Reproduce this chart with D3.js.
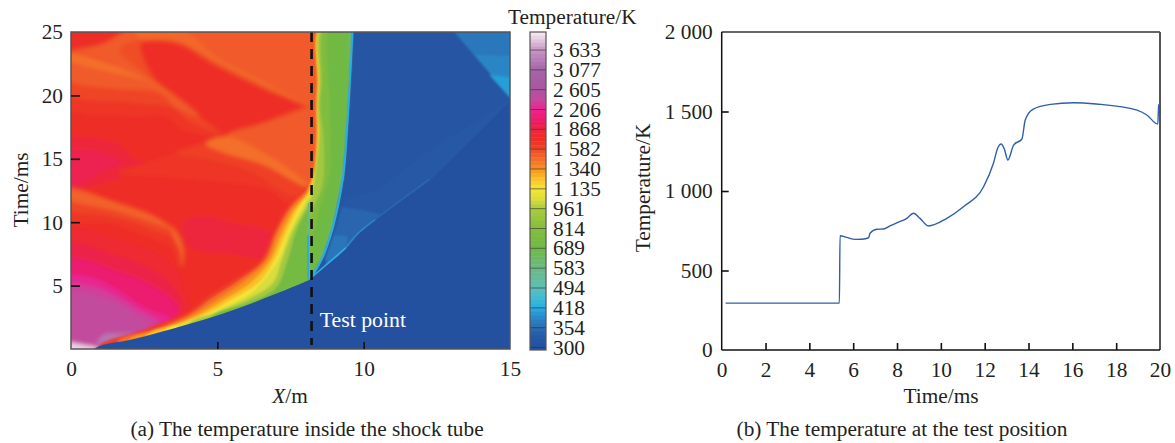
<!DOCTYPE html>
<meta charset="utf-8">

<head>
  <title>Shock tube temperature</title>
  <style>
    body { margin: 0; background: #fff; }
    text { font-family: "Liberation Serif", serif; font-size: 21.3px; fill: #231f20; }
    .domain { display: none; }
    .tick line { stroke: #111; stroke-width: 1.6px; }
  </style>
  <script src="https://d3js.org/d3.v7.min.js"></script>
</head>

<body>
  <svg id="chart" width="1175" height="443"></svg>

  <script>
    // colour bar
    var legendTicks = [3633, 3077, 2605, 2206, 1868, 1582, 1340, 1135, 961, 814, 689, 583, 494, 418, 354, 300];
    var tempStops = [300, 330, 354, 390, 418, 460, 494, 583, 689, 814, 961, 1050, 1135, 1240, 1340, 1450, 1530, 1620, 1720, 1868, 1990, 2206, 2400, 2605, 3077, 3633, 4300];
    var colourStops = ['#24519f', '#2559a7', '#2b6cb3', '#2a8ccb', '#27aee3', '#45bcd0', '#5dbeb4', '#6bba85', '#6db944', '#85bd3e', '#a9cb3f', '#dede3c', '#f5e535', '#f9c02b', '#f7941e', '#f4702a', '#f15a29', '#ef3e26', '#ee2e24', '#ee2440', '#ec1c60', '#ec2390', '#c8489d', '#a8559f', '#a565a9', '#c795c4', '#f7ecf3'];

    // field (a): [temperature, outline in [X/m, time/ms]], painted in order
    var upperWaves = [
      [1530, [[0, 23.3], [1.1, 24.1], [2.2, 25], [5, 25], [8.8, 25], [8.6, 22], [8.5, 19], [8.2, 19.1], [6.7, 17.9], [5.3, 16.75], [4.4, 18.3], [3.6, 19.9], [2.1, 21.8]]],
      [1570, [[1.67, 23.6], [2.4, 24.4], [3.6, 24.3], [5, 22.5], [6.7, 20.6], [8.05, 19], [6.7, 17.9], [5.32, 16.75], [4.4, 18.3], [3.6, 19.9], [2.47, 21.8]]],
      [1730, [[2.4, 24.1], [3.6, 24.1], [4.98, 22.3], [6.69, 20.4], [8.05, 19], [6.7, 17.9], [5.32, 16.75], [4.4, 18.3], [3.6, 19.9], [2.8, 21.5]]],
      [1480, [[2.2, 25], [3.7, 25], [5, 23], [6.7, 21], [8.1, 19.1], [6.7, 20.6], [5, 22.6], [3.6, 24.3], [2.3, 24.5]]],
      [1670, [[0, 23.3], [2.1, 21.8], [3.6, 19.9], [4.4, 18.3], [5.3, 16.7], [4.85, 16.7], [3.7, 17.5], [3.3, 18.3], [2.1, 18.3], [0, 19.1]]],
      [1600, [[0, 23.3], [2.1, 21.8], [3.6, 19.9], [4.4, 18.3], [5.1, 17], [4, 18], [3.5, 19], [2.1, 19.4], [0, 20.2]]],
      [1530, [[0, 23.3], [2.1, 21.8], [3.6, 19.9], [4.4, 18.3], [3.6, 19], [3, 20.2], [1.5, 20.5], [0, 21.3]]],
      [1450, [[0, 23.3], [2.1, 21.8], [3.6, 19.9], [3.2, 20.4], [2.5, 21.2], [1, 22], [0, 22.9]]]
    ];
    var crossingWave = [
      [1840, [[0, 12.7], [0, 16.5], [1.6, 16.2], [2.1, 15.1], [2.6, 14.6]]],
      [1930, [[0, 12.8], [0, 15.4], [1, 15.5], [1.7, 14.7], [1.2, 14.1]]],
      [1680, [[1.6, 13.9], [2.6, 14.7], [5.3, 16.75], [8.2, 19.1], [8.5, 19], [8.3, 12.7], [8.1, 12.5], [7.4, 11.5], [6.8, 12.5], [5, 13.2], [3, 13.6]]],
      [1610, [[3.6, 15.4], [5.3, 16.75], [8.2, 19.1], [8.5, 19], [8.3, 12.7], [7.6, 12], [6.2, 13.9], [4.6, 15]]],
      [1530, [[5.3, 16.75], [6.7, 17.9], [8.2, 19.1], [8.5, 19], [8.3, 12.7], [7.8, 13.3], [6.7, 15.1]]],
      [1450, [[4.6, 16.2], [5.3, 16.75], [6.7, 15.3], [7.9, 13.4], [8.2, 12.7], [7.9, 12.9], [6.6, 14.5], [5.2, 15.5]]]
    ];
    var lowerWave = [
      [1670, [[0, 12.6], [1.6, 11.5], [2.9, 10.3], [3.6, 9.1], [3.8, 7.8], [3.75, 6.3], [3.4, 8], [2.6, 8.9], [1.4, 9.9], [0, 10.2]]],
      [1600, [[0, 12.6], [1.6, 11.5], [2.9, 10.3], [3.6, 9.1], [3.3, 9], [2.2, 9.9], [1, 10.6], [0, 11]]],
      [1500, [[0, 12.6], [1.6, 11.5], [2.9, 10.4], [3.5, 9.4], [3, 9.8], [1.5, 10.9], [0, 11.9]]],
      [1500, [[3.4, 9.7], [3.7, 8.9], [3.85, 7.8], [3.8, 6.5], [3.7, 7.8], [3.45, 9]]],
      [1850, [[3.8, 9.9], [4.5, 10.5], [5.6, 9.9], [6.8, 9.2], [6.9, 7.2], [5.5, 7.5], [4.1, 8]]]
    ];
    var driverGas = [
      [1790, [[0, 9.5], [1.5, 8.7], [3, 7.5], [3.7, 6], [3.9, 4.5], [4.1, 3.2], [3.3, 2.2], [1.5, 0.7], [0.5, 0], [0, 0]]],
      [1900, [[0, 8.2], [1.5, 7.4], [2.8, 6.2], [3.5, 4.8], [3.8, 3.3], [3.3, 2.1], [1.5, 0.7], [0.5, 0], [0, 0]]],
      [2060, [[0, 7], [1.5, 6.2], [2.6, 5.2], [3.4, 4], [3.7, 3], [3.1, 1.9], [1.5, 0.7], [0.5, 0], [0, 0]]],
      [2230, [[0, 5.6], [0.75, 5.6], [1.57, 4.65], [2.46, 3.3], [3.4, 2.3], [2.8, 1.7], [1.5, 0.7], [0.5, 0], [0, 0]]],
      [2360, [[0, 4.9], [0.75, 4.9], [1.57, 4.1], [2.3, 3.1], [3, 2.1], [2.46, 1.3], [1.5, 0.6], [0.5, 0], [0, 0]]],
      [2440, [[0, 4.25], [0.75, 4.25], [1.57, 3.6], [2.1, 2.9], [2.7, 1.9], [1.8, 0.95], [0.75, 0.15], [0, 0]]],
      [3300, [[1.1, 1.1], [1.8, 1.2], [2.2, 1.3], [1.5, 0.7], [0.9, 0.3]]],
      [4100, [[0, 0], [0, 0.45], [0.5, 0.3], [0.9, 0.1], [0.7, 0]]]
    ];
    var frontLayers = [
      [1620, [[1, 0.3], [2.5, 1.5], [3.95, 2.85], [4.64, 4.1], [5.5, 5.4], [6.46, 7], [6.9, 9.15], [7.38, 11.2], [7.93, 12.5], [8.2, 13], [8.2, 0], [1, 0]]],
      [1450, [[1.6, 0.6], [2.9, 1.55], [4.1, 2.8], [4.8, 4], [5.7, 5.35], [6.6, 7], [7, 9.15], [7.47, 11.1], [8, 12.4], [8.2, 13], [8.2, 0], [1.6, 0]]],
      [1340, [[2, 0.75], [3.1, 1.55], [4.2, 2.7], [5, 3.9], [5.9, 5.3], [6.7, 7], [7.1, 9.15], [7.55, 11], [8.05, 12.3], [8.2, 13], [8.2, 0], [2, 0]]],
      [1240, [[2.6, 1.1], [3.6, 1.95], [4.4, 2.72], [5.25, 3.9], [6.15, 5.25], [6.82, 7], [7.22, 9.1], [7.65, 11], [8.08, 12.25], [8.2, 12.8], [8.2, 0], [2.6, 0]]],
      [1135, [[3.2, 1.4], [3.9, 2.1], [4.7, 2.85], [5.5, 3.9], [6.4, 5.2], [6.95, 7], [7.35, 9.1], [7.75, 11], [8.1, 12.2], [8.2, 12.6], [8.2, 0], [3.2, 0]]],
      [1040, [[3.6, 1.65], [4.4, 2.35], [5.3, 3.35], [6.25, 4.6], [7.08, 7], [7.45, 9.15], [7.85, 10.95], [8.2, 12.2], [8.2, 0], [3.6, 0]]],
      [940, [[4, 1.95], [5, 2.9], [6.1, 4], [6.9, 5.2], [7.2, 7], [7.55, 9.2], [7.95, 10.9], [8.2, 11.8], [8.2, 0], [4, 0]]],
      [730, [[4.8, 2.5], [6, 3.6], [7, 4.8], [7.4, 7], [7.75, 9.6], [8.2, 11.2], [8.2, 0], [4.8, 0]]]
    ];
    var contactLayers = [
      [1180, [[8.15, 12.6], [8.3, 14], [8.4, 17], [8.38, 19], [8.42, 21], [8.5, 25], [9.7, 25], [9.5, 18], [9.3, 13.6], [8.95, 9.6], [8.6, 7.25], [8.2, 5.6], [8.2, 12]]],
      [930, [[8.2, 11.6], [8.35, 14], [8.47, 17], [8.43, 19], [8.48, 21], [8.56, 25], [9.7, 25], [9.5, 18], [9.3, 13.6], [8.95, 9.6], [8.6, 7.25], [8.2, 5.6]]],
      [780, [[8.2, 10.5], [8.6, 13], [8.62, 17], [8.52, 19], [8.57, 21], [8.68, 25], [9.7, 25], [9.5, 18], [9.3, 13.6], [8.95, 9.6], [8.6, 7.25], [8.2, 5.6]]],
      [700, [[8.2, 8], [8.5, 11], [8.85, 14], [8.85, 19], [8.9, 25], [9.7, 25], [9.5, 18], [9.3, 13.6], [8.95, 9.6], [8.6, 7.25], [8.2, 5.6]]],
      [600, [[8.5, 6.9], [8.87, 9.6], [9.22, 13.6], [9.4, 18], [9.5, 22], [9.57, 25], [9.7, 25], [9.5, 18], [9.3, 13.6], [8.95, 9.6], [8.6, 7.25]]]
    ];
    var drivenGas = [
      [316, [[8.2, 5.55], [8.6, 7.25], [8.95, 9.6], [9.3, 13.6], [9.45, 18], [9.55, 22], [9.62, 25], [15, 25], [15, 0], [8.2, 0]]],
      [328, [[14.9, 19.5], [12, 15.3], [10.5, 12.6], [9.35, 11.8], [9.05, 9.6], [8.7, 7.25], [8.75, 6.3], [9.4, 7.6], [9.8, 8.7], [10.9, 10.7], [12.26, 13], [13, 14.65], [14, 16.9], [15, 19]]],
      [345, [[8.7, 7.25], [9.05, 9.6], [9.25, 11.2], [9.9, 11], [10.6, 10.6], [9.8, 8.7], [9.4, 7.6], [8.75, 6.3]]],
      [365, [[8.7, 7.25], [9, 9], [9.45, 8.9], [9.4, 7.6], [8.75, 6.3]]],
      [366, [[12.95, 25], [15, 25], [15, 19.4]]],
      [382, [[13.8, 23.2], [15, 23.1], [15, 19.4]]],
      [405, [[14.3, 21.6], [15, 21.4], [15, 19.4]]]
    ];
    // thin fronts: [temperature, path]
    var thinFronts = [
      [425, [[8.2, 5.6], [8.6, 7.25], [8.95, 9.6], [9.3, 13.6], [9.45, 18], [9.55, 22], [9.62, 25]]],
      [425, [[8.25, 5.68], [8.75, 6.68], [9.4, 8]]],
      [385, [[9.4, 8], [9.8, 9.1], [10.4, 10.2]]],
      [345, [[10.4, 10.2], [10.9, 11.1], [12.26, 13.4]]],
      [418, [[8.1, 5.5], [8.1, 9]]],
      [583, [[8.1, 9], [8.12, 11.5]]]
    ];
    var shockFront = [[0.5, 0], [1, 0.25], [2, 0.7], [3, 1.3], [4, 1.95], [5, 2.65], [6, 3.45], [7, 4.35], [8, 5.3], [8.2, 5.55], [8.75, 6.6], [9.4, 7.9], [9.8, 9], [10.9, 11], [12.26, 13.3], [13, 14.95], [14, 17.2], [15, 19.4], [15, 0]];
    var testPointX = 8.22;

    // history (b)
    var timeMs = [0.18, 5.37, 5.4, 5.7, 6.09, 6.4, 6.7, 6.77, 7.08, 7.38, 7.68, 7.99, 8.45, 8.75, 9.05, 9.43, 10.27, 11.03, 11.95, 12.4, 12.6, 12.75, 12.9, 13.06, 13.32, 13.7, 13.85, 14.2, 15, 16.05, 17.1, 18.95, 19.4, 19.9, 19.94, 20];
    var temperatureK = [295, 295, 719, 708, 696, 697, 706, 734, 759, 761, 780, 800, 828, 860, 828, 780, 828, 901, 1027, 1174, 1272, 1296, 1262, 1195, 1289, 1327, 1447, 1514, 1545, 1555, 1547, 1509, 1478, 1421, 1541, 1545];

    var xTicksA = [0, 5, 10, 15];
    var yTicksA = [5, 10, 15, 20, 25];
    var xTicksB = [0, 2, 4, 6, 8, 10, 12, 14, 16, 18, 20];
    var yTicksB = [0, 500, 1000, 1500, 2000];

    var svg = d3.select('#chart');
    var fmt = d3.formatLocale({ decimal: '.', thousands: ' ', grouping: [3], currency: ['', ''] }).format(',d');

    var colour = d3.scaleLog().domain(tempStops).range(colourStops).interpolate(d3.interpolateRgb);

    // Panel (a)
    var xA = d3.scaleLinear().domain([0, 15]).range([71, 510]);
    var yA = d3.scaleLinear().domain([0, 25]).range([349, 32]);

    var defs = svg.append('defs');
    defs.append('clipPath').attr('id', 'plot-a').append('rect')
      .attr('x', xA(0)).attr('y', yA(25))
      .attr('width', xA(15) - xA(0)).attr('height', yA(0) - yA(25));
    [['soft-wide', 2], ['soft', 1], ['soft-thin', 0.5]].forEach(function (f) {
      defs.append('filter').attr('id', f[0]).attr('x', '-5%').attr('y', '-5%').attr('width', '110%').attr('height', '110%')
        .append('feGaussianBlur').attr('stdDeviation', f[1]);
    });

    // push outlines past the frame so the blur does not fade at the edges
    function px(v) { return v <= 0 ? xA(v) - 5 : v >= 15 ? xA(v) + 5 : xA(v); }
    function py(v) { return v <= 0 ? yA(v) + 5 : v >= 25 ? yA(v) - 5 : yA(v); }

    var outline = d3.line().x(function (d) { return px(d[0]); }).y(function (d) { return py(d[1]); }).curve(d3.curveLinearClosed);
    var rounded = d3.line().x(function (d) { return px(d[0]); }).y(function (d) { return py(d[1]); }).curve(d3.curveCatmullRomClosed.alpha(0.5));
    var strand = d3.line().x(function (d) { return xA(d[0]); }).y(function (d) { return yA(d[1]); }).curve(d3.curveCatmullRom);
    var shockLine = d3.line().x(function (d) { return px(d[0]); }).y(function (d) { return py(d[1]); }).curve(d3.curveCatmullRom.alpha(0.5));

    var field = svg.append('g').attr('clip-path', 'url(#plot-a)');
    field.append('rect')
      .attr('x', xA(0)).attr('y', yA(25))
      .attr('width', xA(15) - xA(0)).attr('height', yA(0) - yA(25))
      .attr('fill', colour(1730));

    var wide = field.append('g').attr('filter', 'url(#soft-wide)');
    wide.append('rect')
      .attr('x', xA(0) - 8).attr('y', yA(25) - 8)
      .attr('width', xA(15) - xA(0) + 16).attr('height', yA(0) - yA(25) + 16)
      .attr('fill', colour(1730));
    wide.selectAll('path.layer')
      .data([].concat(upperWaves, crossingWave, lowerWave, driverGas))
      .enter().append('path')
      .attr('class', 'layer')
      .attr('d', function (d) { return rounded(d[1]); })
      .attr('fill', function (d) { return colour(d[0]); });

    var soft = field.append('g').attr('filter', 'url(#soft)');
    soft.selectAll('path.layer')
      .data([].concat(frontLayers, contactLayers))
      .enter().append('path')
      .attr('class', 'layer')
      .attr('d', function (d) { return rounded(d[1]); })
      .attr('fill', function (d) { return colour(d[0]); });
    soft.selectAll('path.gas')
      .data(drivenGas)
      .enter().append('path')
      .attr('class', 'gas')
      .attr('d', function (d) { return outline(d[1]); })
      .attr('fill', function (d) { return colour(d[0]); });

    field.append('g').attr('filter', 'url(#soft-thin)')
      .selectAll('path')
      .data(thinFronts)
      .enter().append('path')
      .attr('d', function (d) { return strand(d[1]); })
      .attr('fill', 'none')
      .attr('stroke', function (d) { return colour(d[0]); })
      .attr('stroke-width', 1.8);

    // undisturbed gas below the shock stays sharp
    field.append('path')
      .attr('d', shockLine(shockFront) + 'Z')
      .attr('fill', colour(300));

    field.append('line')
      .attr('x1', xA(testPointX)).attr('x2', xA(testPointX))
      .attr('y1', yA(25)).attr('y2', yA(0) - 4)
      .attr('stroke', '#111').attr('stroke-width', 2.6).attr('stroke-dasharray', '10 7');

    svg.append('text').attr('x', xA(8.5)).attr('y', 327).style('fill', '#fff').style('font-size', '21.8px').text('Test point');

    svg.append('rect')
      .attr('x', xA(0)).attr('y', yA(25))
      .attr('width', xA(15) - xA(0)).attr('height', yA(0) - yA(25))
      .attr('fill', 'none').attr('stroke', '#555').attr('stroke-width', 1.5);

    var axisXA = svg.append('g').attr('transform', 'translate(0,' + yA(0) + ')')
      .call(d3.axisBottom(xA).tickValues(xTicksA).tickSizeInner(-7).tickPadding(12).tickFormat(d3.format('d')));
    axisXA.selectAll('.tick').filter(function (d) { return d === 0 || d === 15; }).select('line').remove();
    axisXA.selectAll('text').attr('dy', '0.71em').style('font-size', '21.3px');

    var axisYA = svg.append('g').attr('transform', 'translate(' + xA(0) + ',0)')
      .call(d3.axisLeft(yA).tickValues(yTicksA).tickSizeInner(-9).tickPadding(8).tickFormat(d3.format('d')));
    axisYA.selectAll('.tick').filter(function (d) { return d === 25; }).select('line').remove();
    axisYA.selectAll('text').style('font-size', '21.3px');

    svg.append('text').attr('transform', 'translate(28,190) rotate(-90)').attr('text-anchor', 'middle').text('Time/ms');
    var xLabel = svg.append('text').attr('x', 290).attr('y', 403).attr('text-anchor', 'middle');
    xLabel.append('tspan').style('font-style', 'italic').text('X');
    xLabel.append('tspan').text('/m');
    svg.append('text').attr('x', 307).attr('y', 436).attr('text-anchor', 'middle').text('(a) The temperature inside the shock tube');

    // Colour bar
    var legendRow = d3.scaleLinear().domain([0, legendTicks.length - 1]).range([50, 347.5]);
    var barX = 530, barW = 16, barTop = 32;
    var barEdges = [4300].concat(legendTicks);
    var bands = d3.range(barEdges.length - 1);
    var sub = [0, 1, 2, 3, 4];
    var barY = function (i) { return i === 0 ? barTop : legendRow(i - 1); };
    var bar = svg.append('g');
    bands.forEach(function (i) {
      var step = (barY(i + 1) - barY(i)) / sub.length;
      var mix = d3.scaleLinear().domain([0, sub.length]).range([barEdges[i], barEdges[i + 1]]);
      bar.selectAll('rect.b' + i).data(sub).enter().append('rect')
        .attr('class', 'b' + i)
        .attr('x', barX).attr('width', barW)
        .attr('y', function (k) { return barY(i) + k * step; })
        .attr('height', step + 0.5)
        .attr('fill', function (k) { return colour(mix(k + 0.5)); });
    });
    bar.append('rect').attr('x', barX).attr('width', barW).attr('y', legendRow(legendTicks.length - 1))
      .attr('height', 2.5).attr('fill', colour(300));
    bar.selectAll('line').data(legendTicks).enter().append('line')
      .attr('x1', barX).attr('x2', barX + barW)
      .attr('y1', function (d, i) { return legendRow(i); })
      .attr('y2', function (d, i) { return legendRow(i); })
      .attr('stroke', '#333').attr('stroke-width', 0.8).attr('stroke-opacity', 0.8);
    bar.append('rect').attr('x', barX).attr('y', barTop).attr('width', barW).attr('height', 318)
      .attr('fill', 'none').attr('stroke', '#555').attr('stroke-width', 1.2);
    svg.selectAll('text.legend').data(legendTicks).enter().append('text')
      .attr('class', 'legend')
      .attr('x', 553)
      .attr('y', function (d, i) { return legendRow(i) + 7; })
      .text(function (d) { return fmt(d); });
    svg.append('text').attr('x', 508).attr('y', 24).text('Temperature/K');

    // Panel (b)
    var xB = d3.scaleLinear().domain([0, 20]).range([721.7, 1160]);
    var yB = d3.scaleLinear().domain([0, 2000]).range([350, 32]);

    svg.append('line').attr('x1', xB(0)).attr('x2', xB(20)).attr('y1', yB(2000)).attr('y2', yB(2000)).attr('stroke', '#333').attr('stroke-width', 1.3);
    svg.append('line').attr('x1', xB(20)).attr('x2', xB(20)).attr('y1', yB(2000)).attr('y2', yB(0)).attr('stroke', '#555').attr('stroke-width', 2);
    svg.append('line').attr('x1', xB(0)).attr('x2', xB(20)).attr('y1', yB(0)).attr('y2', yB(0)).attr('stroke', '#111').attr('stroke-width', 1.5);
    svg.append('line').attr('x1', xB(0)).attr('x2', xB(0)).attr('y1', yB(2000)).attr('y2', yB(0)).attr('stroke', '#111').attr('stroke-width', 1.5);

    var axisXB = svg.append('g').attr('transform', 'translate(0,' + yB(0) + ')')
      .call(d3.axisBottom(xB).tickValues(xTicksB).tickSizeInner(-7).tickPadding(12).tickFormat(d3.format('d')));
    axisXB.selectAll('.tick').filter(function (d) { return d === 0 || d === 20; }).select('line').remove();
    axisXB.selectAll('text').attr('dy', '0.71em').style('font-size', '21.3px');

    var axisYB = svg.append('g').attr('transform', 'translate(' + xB(0) + ',0)')
      .call(d3.axisLeft(yB).tickValues(yTicksB).tickSizeInner(-7).tickPadding(9).tickFormat(fmt));
    axisYB.selectAll('.tick').filter(function (d) { return d === 0 || d === 2000; }).select('line').remove();
    axisYB.selectAll('text').style('font-size', '21.3px');

    svg.append('path')
      .datum(d3.zip(timeMs, temperatureK))
      .attr('d', d3.line().x(function (d) { return xB(d[0]); }).y(function (d) { return yB(d[1]); }).curve(d3.curveMonotoneX))
      .attr('fill', 'none').attr('stroke', '#2f5fa9').attr('stroke-width', 1.4);

    svg.append('text').attr('transform', 'translate(650,188) rotate(-90)').attr('text-anchor', 'middle').text('Temperature/K');
    svg.append('text').attr('x', 941).attr('y', 403).attr('text-anchor', 'middle').text('Time/ms');
    svg.append('text').attr('x', 902).attr('y', 436).attr('text-anchor', 'middle').text('(b) The temperature at the test position');
  </script>
</body>

</html>
